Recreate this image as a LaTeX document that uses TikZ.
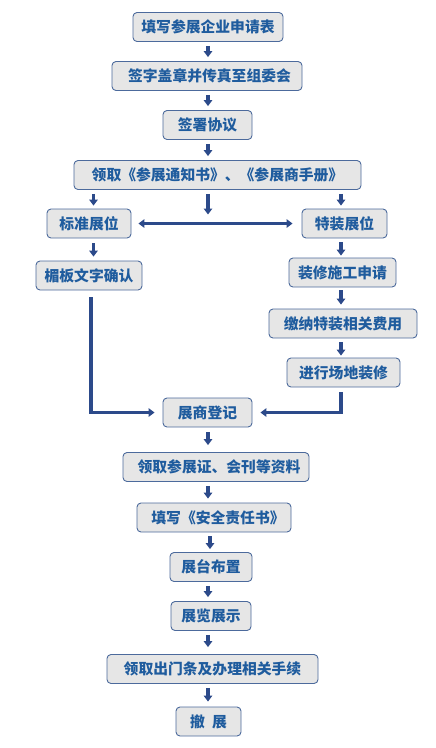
\documentclass[tikz,border=0pt]{standalone}
\usepackage{fontspec}
\newfontfamily\cjk{Noto Sans CJK SC}
\usetikzlibrary{arrows.meta}
\definecolor{flowblue}{HTML}{2C4A8A}
\definecolor{edgeblue}{HTML}{4C6A9C}
\definecolor{textblue}{HTML}{1F5C9E}
\definecolor{boxgray}{HTML}{E6E6E6}
\begin{document}
\begin{tikzpicture}[x=1pt, y=-1pt, >={Triangle[width=8.5pt,length=6pt]},
	stepbox/.style={draw=edgeblue, fill=boxgray, rounded corners=4pt, line width=0.9pt, minimum height=29pt, inner sep=0pt, text=textblue, font=\cjk\bfseries\fontsize{14.8}{17}\selectfont},
	flow/.style={->, draw=flowblue, line width=3.6pt}]
	\useasboundingbox (0,0) rectangle (436,748);
	\coordinate (mid) at (208,0);
	\coordinate (leftx) at (93.5,0);
	\coordinate (rightx) at (341,0);
	% main column
	\node[stepbox, minimum width=150pt] (apply) at (208,27) {填写参展企业申请表};
	\node[stepbox, minimum width=190pt] (fax) at (207,76) {\hspace{5pt}签字盖章并传真至组委会};
	\node[stepbox, minimum width=89pt] (sign) at (207.5,125) {签署协议};
	\node[stepbox, minimum width=287pt] (notice) at (217.5,175) {领取《参展通知书》、《参展商手册》};
	% two kinds of booth
	\node[stepbox, minimum width=84pt] (std) at (89,223.5) {标准展位};
	\node[stepbox, minimum width=85pt] (raw) at (344.5,223.5) {特装展位};
	\node[stepbox, minimum width=106pt] (fascia) at (89,275.5) {楣板文字确认};
	\node[stepbox, minimum width=107pt] (build) at (342.5,272.5) {装修施工申请};
	\node[stepbox, minimum width=148pt] (fee) at (343,323.5) {缴纳特装相关费用};
	\node[stepbox, minimum width=113pt] (decor) at (343.5,372.5) {进行场地装修};
	% after registration
	\node[stepbox, minimum width=89pt] (reg) at (207.5,412.5) {展商登记};
	\node[stepbox, minimum width=186pt] (cards) at (216,467) {\hspace{6pt}领取参展证、会刊等资料};
	\node[stepbox, minimum width=154pt] (safety) at (214,517.5) {\hspace{8pt}填写《安全责任书》};
	\node[stepbox, minimum width=82pt] (setup) at (211,567) {展台布置\hspace{6pt}};
	\node[stepbox, minimum width=80pt] (show) at (211,616) {展览展示};
	\node[stepbox, minimum width=211pt] (exit) at (212.5,669) {领取出门条及办理相关手续};
	\node[stepbox, minimum width=65pt] (close) at (208.5,721.5) {撤\hspace{0.5em}展};
	% arrows
	\draw[flow, shorten <=4pt, shorten >=4pt] (apply.south -| mid) -- (fax.north -| mid);
	\draw[flow, shorten <=4pt, shorten >=4pt] (fax.south -| mid) -- (sign.north -| mid);
	\draw[flow, shorten <=4pt, shorten >=4pt] (sign.south -| mid) -- (notice.north -| mid);
	\draw[flow, shorten <=4pt, shorten >=3pt] (notice.south -| leftx) -- (std.north -| leftx);
	\draw[flow, shorten <=4pt, shorten >=3pt] (notice.south -| rightx) -- (raw.north -| rightx);
	\draw[flow, shorten <=4pt, shorten >=9pt] (notice.south -| mid) -- (std.east -| mid);
	\draw[flow, <->, shorten <=7pt, shorten >=9pt] (std.east) -- (raw.west);
	\draw[flow, shorten <=5pt, shorten >=4pt] (std.south -| leftx) -- (fascia.north -| leftx);
	\draw[flow, shorten <=4pt, shorten >=2pt] (raw.south -| rightx) -- (build.north -| rightx);
	\draw[flow, shorten <=3pt, shorten >=4pt] (build.south -| rightx) -- (fee.north -| rightx);
	\draw[flow, shorten <=4pt, shorten >=2pt] (fee.south -| rightx) -- (decor.north -| rightx);
	\draw[flow, shorten <=7pt, shorten >=8pt] (fascia.south -| 91,0) |- (reg.west);
	\draw[flow, shorten <=5pt, shorten >=8pt] (decor.south -| rightx) |- (reg.east);
	\draw[flow, shorten <=5pt, shorten >=7pt] (reg.south -| mid) -- (cards.north -| mid);
	\draw[flow, shorten <=4pt, shorten >=4pt] (cards.south -| mid) -- (safety.north -| mid);
	\draw[flow, shorten <=4pt, shorten >=3pt] (safety.south -| 210,0) -- (setup.north -| 210,0);
	\draw[flow, shorten <=4pt, shorten >=4pt] (setup.south -| mid) -- (show.north -| mid);
	\draw[flow, shorten <=4pt, shorten >=7pt] (show.south -| mid) -- (exit.north -| mid);
	\draw[flow, shorten <=4pt, shorten >=5pt] (exit.south -| mid) -- (close.north -| mid);
\end{tikzpicture}
\end{document}
